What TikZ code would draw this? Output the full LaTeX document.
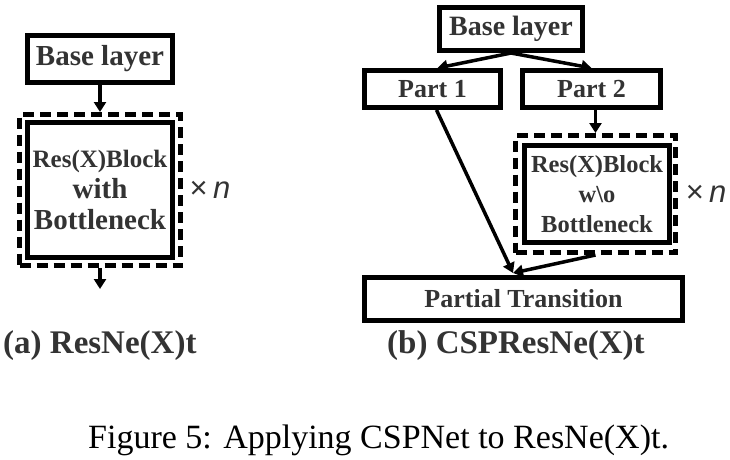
\documentclass[tikz,border=0pt]{standalone}
\usepackage{fontspec}
\setmainfont{Liberation Serif}
\newfontfamily\repfont{Liberation Sans}
\usetikzlibrary{arrows.meta,positioning}
\colorlet{penColor}{black}
\colorlet{txtColor}{black!80}
\tikzset{>={Triangle[length=10pt,width=12pt]}}
\tikzset{
  box/.style={draw=penColor, line width=5pt, inner sep=0pt, text=txtColor,
    font=\bfseries\fontsize{26}{31}\selectfont},
  dbox/.style={draw=penColor, line width=5pt, dash pattern=on 11pt off 6pt, inner sep=0pt},
  arr/.style={->, draw=penColor, line width=3.5pt},
  rep/.style={inner sep=0pt, text=txtColor, font=\repfont\fontsize{31}{34}\selectfont},
  sub/.style={anchor=base west, inner sep=0pt, text=txtColor,
    font=\bfseries\fontsize{33}{38}\selectfont}
}
\begin{document}
\begin{tikzpicture}[x=1pt,y=-1pt]
  \useasboundingbox (0,0) rectangle (730,459);
  % (a) ResNe(X)t
  \node[box, minimum width=145pt, minimum height=47pt,
        font=\bfseries\fontsize{29}{31}\selectfont] (base1) at (100,59) {Base layer};
  \node[dbox, minimum width=161pt, minimum height=151pt] (dash1) at (100,190) {};
  \node[box, minimum width=145pt, minimum height=135pt, align=center] (block1) at (100,190)
     {{\fontsize{25}{34}\selectfont Res(X)Block}\\
      {\fontsize{29}{34}\selectfont with}\\
      {\fontsize{29}{34}\selectfont Bottleneck}};
  \node[rep] (rep1) at (210,190) {×\,\itshape n};
  \coordinate (out1) at (100,289);
  \draw[arr] (base1.south) -- (dash1.north);
  \draw[arr] (dash1.south) -- (out1);

  % (b) CSPResNe(X)t
  \node[box, minimum width=143pt, minimum height=43pt,
        font=\bfseries\fontsize{28}{31}\selectfont] (base2) at (511,29) {Base layer};
  \node[box, minimum width=136pt, minimum height=37pt] (part1) at (432.5,89) {Part 1};
  \node[box, minimum width=138pt, minimum height=37pt] (part2) at (591.5,89) {Part 2};
  \node[dbox, minimum width=160pt, minimum height=117pt] (dash2) at (595.5,194) {};
  \node[box, minimum width=145pt, minimum height=97pt, align=center,
        font=\bfseries\fontsize{24.5}{30}\selectfont] (block2) at (597,194)
     {Res(X)Block\\ w\textbackslash o\\ Bottleneck};
  \node[rep] (rep2) at (706,194) {×\,\itshape n};
  \node[box, minimum width=318pt, minimum height=43pt] (trans) at (523.5,299) {Partial Transition};
  \coordinate (merge) at (513,273);
  \draw[arr] (base2.south) -- ([xshift=5pt]part1.north);
  \draw[arr] (base2.south) -- (part2.north);
  \draw[arr] (part2.south -| dash2.north) -- (dash2.north);
  \draw[arr] ([xshift=4pt]part1.south) -- (merge);
  \draw[arr] (dash2.south) -- (merge);

  % captions
  \node[sub] (capa) at (3,353) {(a) ResNe(X)t};
  \node[sub] (capb) at (387,353) {(b) CSPResNe(X)t};
  \node[anchor=base west, inner sep=0pt, font=\fontsize{34}{38}\selectfont] (cap) at (88,448)
     {Figure 5: Applying CSPNet to ResNe(X)t.};
\end{tikzpicture}
\end{document}
